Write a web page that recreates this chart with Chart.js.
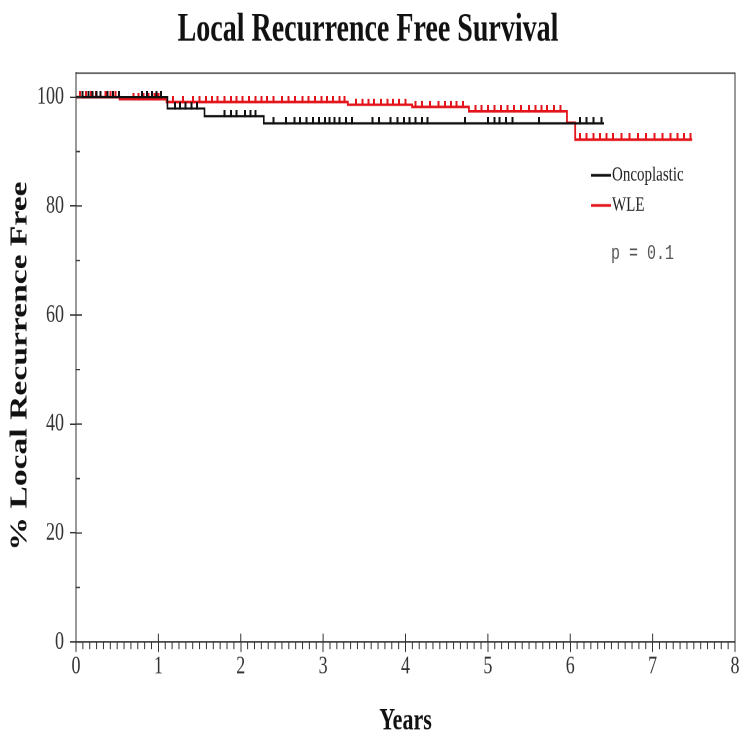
<!DOCTYPE html>
<html>
<head>
<meta charset="utf-8">
<script src="https://cdn.jsdelivr.net/npm/chart.js@4/dist/chart.umd.min.js"></script>
<style>
    html, body { margin: 0; padding: 0; background: #fff; }
    #wrap { width: 740px; height: 735px; overflow: hidden; }
    /* the source picture is stretched vertically, so the canvas is too */
    #chart { display: block; transform: scaleY(1.4); transform-origin: 0 0; }
</style>
</head>
<body>
<div id="wrap"><canvas id="chart" width="740" height="525"></canvas></div>
<script>
// Kaplan-Meier steps (years, % free)
const oncoTimes = [0, 1.11, 1.56, 2.28, 6.41];
const oncoSurv = [100, 97.9, 96.5, 95.2, 95.2];
const wleTimes = [0, 0.53, 1.1, 3.3, 4.08, 4.77, 5.96, 6.06, 7.48];
const wleSurv = [100, 99.6, 99.1, 98.6, 98.2, 97.4, 95.3, 92.2, 92.2];

// Censored observations (years)
const oncoCensor = [0.08, 0.15, 0.2, 0.25, 0.3, 0.38, 0.45, 0.52, 0.8, 0.86, 0.92, 0.98, 1.03,
    1.2, 1.26, 1.33, 1.4, 1.47, 1.8, 1.88, 1.95, 2.05, 2.12, 2.18,
    2.4, 2.55, 2.65, 2.72, 2.8, 2.88, 2.95, 3.02, 3.08, 3.14, 3.2, 3.28, 3.35,
    3.6, 3.68, 3.82, 3.9, 3.98, 4.05, 4.12, 4.2, 4.27, 4.72,
    5.0, 5.08, 5.14, 5.22, 5.3, 5.62, 6.12, 6.2, 6.28, 6.38];
const wleCensor = [0.05, 0.12, 0.18, 0.24, 0.3, 0.36, 0.42, 0.48, 0.7, 0.76, 0.82, 0.88, 0.95, 1.0,
    1.18, 1.3, 1.42, 1.5, 1.58, 1.65, 1.72, 1.8, 1.88, 1.95, 2.02, 2.1, 2.18, 2.25, 2.32, 2.4,
    2.5, 2.58, 2.66, 2.75, 2.82, 2.9, 2.98, 3.05, 3.12, 3.2, 3.26, 3.4, 3.48, 3.55, 3.62, 3.7,
    3.78, 3.85, 3.92, 4.0, 4.12, 4.2, 4.3, 4.4, 4.48, 4.55, 4.62, 4.7, 4.85, 4.92, 5.0, 5.08,
    5.16, 5.24, 5.32, 5.4, 5.5, 5.58, 5.65, 5.72, 5.8, 5.88, 6.12, 6.2, 6.28, 6.36, 6.44, 6.52,
    6.62, 6.72, 6.82, 6.92, 7.02, 7.12, 7.22, 7.3, 7.38, 7.46];

const xTicks = [0, 1, 2, 3, 4, 5, 6, 7, 8];
const yTicks = [0, 20, 40, 60, 80, 100];
const yMinorTicks = [10, 30, 50, 70, 90];

const seriesNames = ['Oncoplastic', 'WLE'];
const seriesColors = ['#111111', '#e3141b'];
const pText = 'p = 0.1';

const SERIF = "'Liberation Serif', 'Times New Roman', serif";

// Survival value at a given time (step function)
const survivalAt = (times, surv, t) => {
    let s = surv[0];
    times.forEach((tt, i) => { if (tt <= t) s = surv[i]; });
    return s;
};

const stepPoints = (times, surv) => times.map((t, i) => ({ x: t, y: surv[i] }));
const censorPoints = (cens, times, surv) => cens.map(t => ({ x: t, y: survivalAt(times, surv, t) }));

// Small upward tick used as point style for censored cases
const censorMark = (color) => {
    const c = document.createElement('canvas');
    c.width = 2;
    c.height = 9;
    const g = c.getContext('2d');
    g.fillStyle = color;
    g.fillRect(0, 0, 2, 5);
    return c;
};

// Box, inner tick marks and minor ticks
const axesPlugin = {
    id: 'axesExtras',
    afterDraw(chart) {
        const { ctx, chartArea: { left, right, top, bottom }, scales: { x, y } } = chart;
        ctx.save();
        ctx.strokeStyle = '#333';
        ctx.lineWidth = 1;
        ctx.beginPath();
        ctx.moveTo(left, top);
        ctx.lineTo(right, top);
        ctx.lineTo(right, bottom);
        xTicks.forEach(v => {
            const px = x.getPixelForValue(v);
            ctx.moveTo(px, bottom - 6);
            ctx.lineTo(px, bottom);
        });
        for (let m = 1; m < 96; m++) {
            if (m % 12 === 0) continue;
            const px = x.getPixelForValue(m / 12);
            ctx.moveTo(px, bottom);
            ctx.lineTo(px, bottom + 5);
        }
        yTicks.forEach(v => {
            const py = y.getPixelForValue(v);
            ctx.moveTo(left, py);
            ctx.lineTo(left + 6, py);
        });
        yMinorTicks.forEach(v => {
            const py = y.getPixelForValue(v);
            ctx.moveTo(left, py);
            ctx.lineTo(left + 4, py);
        });
        ctx.stroke();
        ctx.restore();
    }
};

// Legend inside the plot + p value
const legendPlugin = {
    id: 'legendInside',
    afterDraw(chart) {
        const { ctx, chartArea: { right, top } } = chart;
        ctx.save();
        ctx.textBaseline = 'middle';
        seriesNames.forEach((name, i) => {
            const yy = top + 73 + i * 21.5;
            ctx.strokeStyle = seriesColors[i];
            ctx.lineWidth = 2;
            ctx.beginPath();
            ctx.moveTo(right - 144, yy);
            ctx.lineTo(right - 124, yy);
            ctx.stroke();
            ctx.fillStyle = '#222';
            ctx.font = "15px " + SERIF;
            ctx.fillText(name, right - 123, yy);
        });
        ctx.fillStyle = '#555';
        ctx.font = "15px 'Liberation Mono', 'DejaVu Sans Mono', monospace";
        ctx.fillText(pText, right - 124, top + 129);
        ctx.restore();
    }
};

const ctx = document.getElementById('chart').getContext('2d');
new Chart(ctx, {
    type: 'line',
    data: {
        datasets: [
            {
                label: seriesNames[0],
                data: stepPoints(oncoTimes, oncoSurv),
                stepped: 'before',
                borderColor: seriesColors[0],
                borderWidth: 1.6,
                pointRadius: 0,
                fill: false
            },
            {
                type: 'scatter',
                label: seriesNames[0] + ' censored',
                data: censorPoints(oncoCensor, oncoTimes, oncoSurv),
                pointStyle: censorMark(seriesColors[0]),
                pointRadius: 4
            },
            {
                label: seriesNames[1],
                data: stepPoints(wleTimes, wleSurv),
                stepped: 'before',
                borderColor: seriesColors[1],
                borderWidth: 1.8,
                pointRadius: 0,
                fill: false
            },
            {
                type: 'scatter',
                label: seriesNames[1] + ' censored',
                data: censorPoints(wleCensor, wleTimes, wleSurv),
                pointStyle: censorMark(seriesColors[1]),
                pointRadius: 4
            }
        ]
    },
    options: {
        responsive: false,
        devicePixelRatio: 2,
        animation: false,
        layout: { padding: { left: 0, right: 4, top: 0, bottom: 0 } },
        plugins: {
            legend: { display: false },
            tooltip: { enabled: false },
            title: {
                display: true,
                text: 'Local Recurrence Free Survival',
                color: '#111',
                font: { family: SERIF, size: 28, weight: 'bold', lineHeight: 1.2 },
                padding: { top: 5, bottom: 13.6 }
            }
        },
        scales: {
            x: {
                type: 'linear',
                min: 0,
                max: 8,
                afterBuildTicks: scale => { scale.ticks = xTicks.map(v => ({ value: v })); },
                afterFit: scale => {
                    scale.height = 66.4;
                    scale.paddingLeft = 0;
                    scale.paddingRight = 0;
                },
                ticks: {
                    color: '#333',
                    font: { family: SERIF, size: 18 },
                    padding: 0,
                    maxRotation: 0
                },
                grid: { drawOnChartArea: false, tickLength: 7, color: '#333' },
                border: { color: '#333', width: 1 },
                title: {
                    display: true,
                    text: 'Years',
                    color: '#111',
                    font: { family: SERIF, size: 22, weight: 'bold', lineHeight: 0.9 },
                    padding: { top: 0, bottom: 0 }
                }
            },
            y: {
                type: 'linear',
                min: 0,
                max: 104.4,
                afterBuildTicks: scale => { scale.ticks = yTicks.map(v => ({ value: v })); },
                afterFit: scale => {
                    scale.width = 76;
                    scale.paddingTop = 0;
                    scale.paddingBottom = 0;
                },
                ticks: {
                    color: '#333',
                    font: { family: SERIF, size: 18 },
                    padding: 6
                },
                grid: { drawOnChartArea: false, tickLength: 6, color: '#333' },
                border: { color: '#333', width: 1 },
                title: {
                    display: true,
                    text: '% Local Recurrence Free  ',
                    color: '#111',
                    font: { family: SERIF, size: 24, weight: 'bold', lineHeight: 1.2 },
                    padding: { top: 6, bottom: 0 }
                }
            }
        }
    },
    plugins: [axesPlugin, legendPlugin]
});
</script>
</body>
</html>
